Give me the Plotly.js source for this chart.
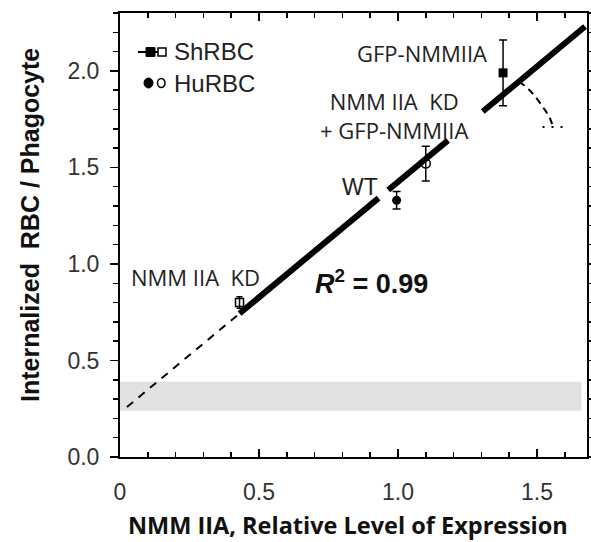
<!DOCTYPE html>
<html>
<head>
<meta charset="utf-8">
<script src="https://cdn.plot.ly/plotly-3.0.1.min.js"></script>
<style>html,body{margin:0;padding:0;background:#fff;}#chart{width:591px;height:542px;}</style>
</head>
<body>
<div id="chart"></div>
<script>
// ---- data ----
const shX = [1.378];            // ShRBC filled square (GFP-NMMIIA)
const shY = [1.99];
const shErr = [0.17];
const shOpenX = [0.43];         // ShRBC open square (NMM IIA KD)
const shOpenY = [0.80];
const shOpenErr = [0.03];
const huX = [0.995];            // HuRBC filled circle (WT)
const huY = [1.33];
const huErr = [0.045];
const huOpenX = [1.10];         // HuRBC open circle (KD + GFP-NMMIIA)
const huOpenY = [1.52];
const huOpenErr = [0.09];
const fitSlope = 1.196;
const fitIntercept = 0.229;
const fitDashX = [0.025, 0.43];
const fitSolidX = [0.43, 0.93, null, 0.965, 1.18, null, 1.305, 1.673];
const curveX = [1.435, 1.47, 1.50, 1.525, 1.545, 1.558];
const curveY = [1.945, 1.905, 1.855, 1.805, 1.76, 1.71];
const dotX = [1.52, 1.595];
const dotY = [1.71, 1.71];
const bandRange = [0.24, 0.39];
const xTickVals = [0, 0.5, 1.0, 1.5];
const xTickText = ['0', '0.5', '1.0', '1.5'];
const yTickVals = [0, 0.5, 1.0, 1.5, 2.0];
const yTickText = ['0.0', '0.5', '1.0', '1.5', '2.0'];

const fy = xs => xs.map(x => x === null ? null : fitIntercept + fitSlope * x);

const traces = [
  {x: fitDashX, y: fy(fitDashX), mode: 'lines', line: {color: '#000', width: 2, dash: '8px,7px'}, hoverinfo: 'skip'},
  {x: fitSolidX, y: fy(fitSolidX), mode: 'lines', line: {color: '#000', width: 6}, connectgaps: false, hoverinfo: 'skip'},
  {x: curveX, y: curveY, mode: 'lines', line: {color: '#000', width: 2, dash: '7px,5px', shape: 'spline'}, hoverinfo: 'skip'},
  {x: dotX, y: dotY, mode: 'lines', line: {color: '#000', width: 2, dash: '2px,7px'}, hoverinfo: 'skip'},
  {x: shX, y: shY, mode: 'markers', marker: {symbol: 'square', size: 9, color: '#000'},
   error_y: {type: 'data', array: shErr, color: '#000', thickness: 1.5, width: 4}},
  {x: shOpenX, y: shOpenY, mode: 'markers', marker: {symbol: 'square-open', size: 8, color: '#000', line: {width: 1.5}},
   error_y: {type: 'data', array: shOpenErr, color: '#000', thickness: 1.5, width: 3}},
  {x: huX, y: huY, mode: 'markers', marker: {symbol: 'circle', size: 9, color: '#000'},
   error_y: {type: 'data', array: huErr, color: '#000', thickness: 1.5, width: 4}},
  {x: huOpenX, y: huOpenY, mode: 'markers', marker: {symbol: 'circle-open', size: 9, color: '#000', line: {width: 1.5}},
   error_y: {type: 'data', array: huOpenErr, color: '#000', thickness: 1.5, width: 4}}
];

// pixel helpers for legend decoration
const L = 120, R = 587, T = 13, B = 457;
const px = p => (p - L) / (R - L);
const py = p => (B - p) / (B - T);

const shapes = [
  {type: 'rect', xref: 'x', yref: 'y', x0: 0, x1: 1.66, y0: bandRange[0], y1: bandRange[1],
   fillcolor: '#e1e1e1', line: {width: 0}, layer: 'below'},
  // legend keys
  {type: 'line', xref: 'paper', yref: 'paper', x0: px(138), x1: px(158), y0: py(52), y1: py(52), line: {color: '#000', width: 2}},
  {type: 'rect', xref: 'paper', yref: 'paper', x0: px(146), x1: px(155), y0: py(47.5), y1: py(56.5), fillcolor: '#000', line: {color: '#000', width: 1}},
  {type: 'rect', xref: 'paper', yref: 'paper', x0: px(158), x1: px(166), y0: py(48), y1: py(56), fillcolor: '#fff', line: {color: '#000', width: 1.5}},
  {type: 'circle', xref: 'paper', yref: 'paper', x0: px(144), x1: px(153), y0: py(78), y1: py(88), fillcolor: '#000', line: {color: '#000', width: 1}},
  {type: 'circle', xref: 'paper', yref: 'paper', x0: px(157.5), x1: px(165), y0: py(78.5), y1: py(87.5), fillcolor: '#fff', line: {color: '#000', width: 1.5}}
];

const lblFont = {family: 'Open Sans, Noto Sans, sans-serif', size: 22, color: '#222'};
const annotations = [
  {x: px(172), y: py(52), xref: 'paper', yref: 'paper', xanchor: 'left', yanchor: 'middle', showarrow: false,
   text: 'ShRBC', font: {family: 'Liberation Sans, Arial, sans-serif', size: 24, color: '#222'}},
  {x: px(172), y: py(83), xref: 'paper', yref: 'paper', xanchor: 'left', yanchor: 'middle', showarrow: false,
   text: 'HuRBC', font: {family: 'Liberation Sans, Arial, sans-serif', size: 24, color: '#222'}},
  {x: 1.086, y: 2.093, xref: 'x', yref: 'y', xanchor: 'center', yanchor: 'middle', showarrow: false, text: 'GFP-NMMIIA', font: lblFont},
  {x: 0.985, y: 1.77, xref: 'x', yref: 'y', xanchor: 'center', yanchor: 'middle', showarrow: false, text: 'NMM IIA&nbsp; KD<br>+ GFP-NMMIIA', font: lblFont},
  {x: 0.863, y: 1.40, xref: 'x', yref: 'y', xanchor: 'center', yanchor: 'middle', showarrow: false, text: 'WT',
   font: {family: 'Liberation Sans, Arial, sans-serif', size: 23, color: '#222'}},
  {x: 0.273, y: 0.933, xref: 'x', yref: 'y', xanchor: 'center', yanchor: 'middle', showarrow: false, text: 'NMM IIA&nbsp; KD', font: lblFont},
  {x: 0.906, y: 0.905, xref: 'x', yref: 'y', xanchor: 'center', yanchor: 'middle', showarrow: false, text: '<b><i>R</i><sup>2</sup> = 0.99</b>',
   font: {family: 'Liberation Sans, Arial, sans-serif', size: 27, color: '#111'}},
  {x: px(348), y: py(525), xref: 'paper', yref: 'paper', xanchor: 'center', yanchor: 'middle', showarrow: false,
   text: '<b>NMM IIA, Relative Level of Expression</b>',
   font: {family: 'Open Sans, Noto Sans, sans-serif', size: 23.5, color: '#111'}},
  {x: px(30), y: py(225), xref: 'paper', yref: 'paper', xanchor: 'center', yanchor: 'middle', showarrow: false, textangle: -90,
   text: '<b>Internalized&nbsp; RBC / Phagocyte</b>',
   font: {family: 'Liberation Sans, Arial, sans-serif', size: 25, color: '#111'}}
];

const layout = {
  width: 591, height: 542,
  margin: {l: L, r: 591 - R, t: T, b: 542 - B},
  paper_bgcolor: '#fff', plot_bgcolor: '#fff',
  showlegend: false,
  xaxis: {
    range: [0, 1.68], showgrid: false, zeroline: false,
    showline: true, linecolor: '#000', linewidth: 2, mirror: 'ticks',
    ticks: 'inside', ticklen: 8, tickwidth: 1.5, tickcolor: '#000',
    tickvals: xTickVals, ticktext: xTickText, ticklabelstandoff: 13,
    tickfont: {family: 'Liberation Sans, Arial, sans-serif', size: 23, color: '#333'},
    minor: {dtick: 0.1, ticks: 'inside', ticklen: 5, tickwidth: 1.5, tickcolor: '#000'}
  },
  yaxis: {
    range: [0, 2.3], showgrid: false, zeroline: false,
    showline: true, linecolor: '#000', linewidth: 2, mirror: 'ticks',
    ticks: 'outside', ticklen: 8, tickwidth: 1.5, tickcolor: '#000',
    tickvals: yTickVals, ticktext: yTickText, ticklabelstandoff: 6,
    tickfont: {family: 'Liberation Sans, Arial, sans-serif', size: 23, color: '#333'},
    minor: {dtick: 0.1, ticks: 'outside', ticklen: 5, tickwidth: 1.5, tickcolor: '#000'}
  },
  shapes: shapes,
  annotations: annotations
};

Plotly.newPlot('chart', traces, layout, {displayModeBar: false, staticPlot: true});
</script>
</body>
</html>
